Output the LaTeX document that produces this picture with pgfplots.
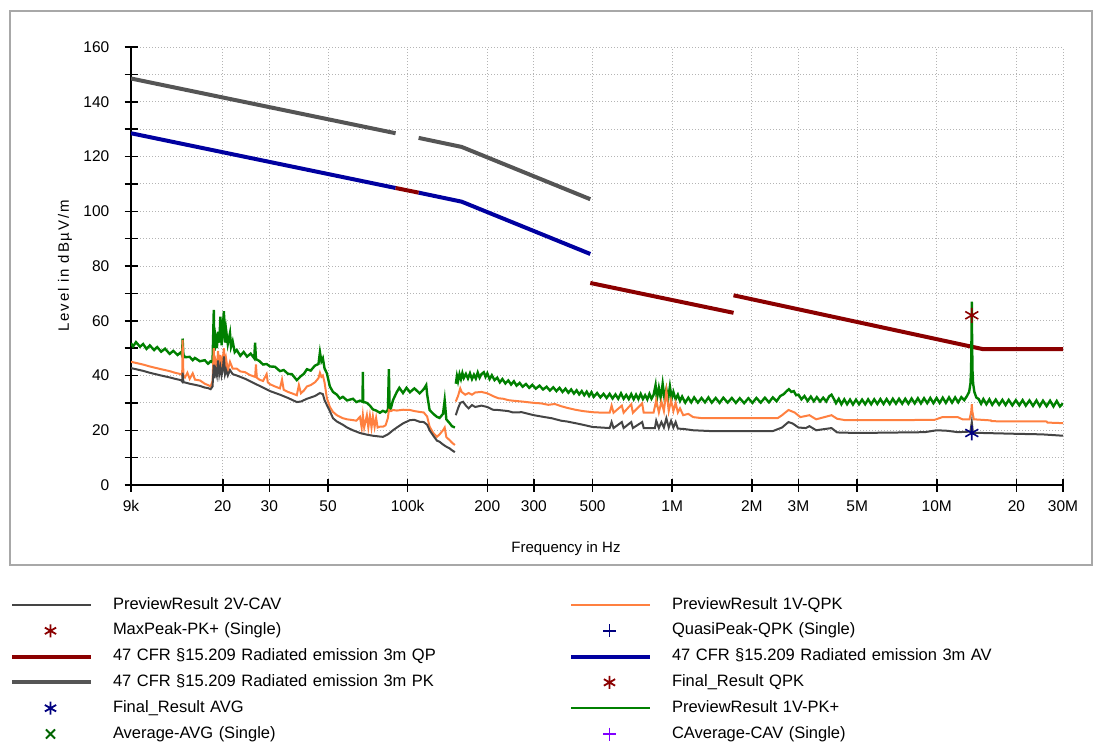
\documentclass[border=0pt]{standalone}
\usepackage{fontspec}
\setmainfont{Liberation Sans}
\usepackage{pgfplots}
\pgfplotsset{compat=1.18}
\definecolor{cGreen}{HTML}{008000}
\definecolor{cOrange}{HTML}{FF8040}
\definecolor{cGrayT}{HTML}{454545}
\definecolor{cPK}{HTML}{555555}
\definecolor{cAV}{HTML}{0000A0}
\definecolor{cQP}{HTML}{8B0000}
\definecolor{cBlueM}{HTML}{000080}
\definecolor{cPurple}{HTML}{8000FF}
\definecolor{cDkGreen}{HTML}{006400}
\definecolor{cFrame}{HTML}{A8A8A8}
\definecolor{cGrid}{HTML}{B4B4B4}
\pgfplotsset{
  linelegend/.style={legend image code/.code={\draw[##1] (0pt,0pt) -- (79pt,0pt);}},
  marklegend/.style={legend image code/.code={\draw[##1] plot coordinates {(38.5pt,0pt)};}},
}
\begin{document}
\begin{tikzpicture}
\useasboundingbox (0pt,0pt) rectangle (1102pt,-742pt);
\draw[cFrame, line width=1.5pt] (10pt,-11pt) rectangle (1092pt,-565pt);
\begin{axis}[
  at={(131pt,-485pt)}, anchor=south west, scale only axis,
  width=932pt, height=438pt,
  xmode=log, xmin=9000, xmax=3e7, ymin=0, ymax=160,
  axis x line*=bottom, axis y line*=left,
  axis line style={black, line width=1.5pt},
  every tick/.style={black, line width=1.5pt},
  tick align=center, major tick length=13pt,
  xtick={9000,20000,30000,50000,100000,200000,300000,500000,1000000,2000000,3000000,5000000,10000000,20000000,30000000},
  xticklabels={9k,20,30,50,100k,200,300,500,1M,2M,3M,5M,10M,20,30M},
  ytick={0,10,...,160},
  yticklabels={0,,20,,40,,60,,80,,100,,120,,140,,160},
  minor xtick={}, 
  grid=major,
  grid style={cGrid, line width=1pt, dash pattern=on 1pt off 2pt},
  tick label style={font=\fontsize{15.5}{18}\selectfont},
  xticklabel style={anchor=north, inner sep=0pt, yshift=-9pt},
  yticklabel style={anchor=east, inner sep=0pt, xshift=-15pt},
  xlabel={Frequency in Hz},
  ylabel={\addfontfeature{LetterSpace=12}Level in dBµV/m},
  label style={font=\fontsize{15}{18}\selectfont},
  xlabel style={at={(axis description cs:0.4667,-0.1461)}, anchor=center, font=\fontsize{15}{18}\selectfont},
  ylabel style={at={(axis description cs:-0.0708,0.5)}, anchor=center},
  legend columns=2,
  legend cell align=left,
  legend style={draw=none, fill=none, inner sep=0pt, outer sep=0pt,
    at={(axis description cs:-0.12983,-0.2557)}, anchor=north west,
    font=\fontsize{16.5}{18}\selectfont,
    row sep=9.8pt, column sep=0pt,
    nodes={inner sep=0pt, text height=12pt, text depth=4pt, text width=456pt, align=left},
    /tikz/every odd column/.append style={column sep=20pt},
    /tikz/every even column/.append style={column sep=0pt}},
]
% ---------------- limits ----------------
\addplot[forget plot, cPK, line width=4pt] coordinates {(9000,148.5) (90000,128.5)};
\addplot[forget plot, cPK, line width=4pt] coordinates {(110000,126.8) (160000,123.5) (490000,104.4)};
\addplot[forget plot, cAV, line width=4pt] coordinates {(9000,128.5) (90000,108.5)};
\addplot[forget plot, cAV, line width=4pt] coordinates {(110000,106.8) (160000,103.5) (490000,84.4)};
\addplot[forget plot, cQP, line width=4pt] coordinates {(90000,108.5) (110000,106.8)};
\addplot[forget plot, cQP, line width=4pt] coordinates {(490000,73.8) (1705000,62.9)};
\addplot[forget plot, cQP, line width=4pt] coordinates {(1705000,69.3) (15000000,49.6) (30000000,49.6)};
% ---------------- PK+ (green) ----------------
\addplot[forget plot, cGreen, line width=2.4pt] coordinates {
(9000,51.8) (9160,50.6) (9400,52.2) (9730,50.5) (10000,51.5) (10300,49.7) (10600,51.0) (11000,49.3)
(11300,50.4) (11700,48.7) (12100,49.8) (12600,47.9) (13000,49.0) (13500,47.5) (13900,48.5) (14050,47.3)
(14100,53.5) (14200,47.6) (14400,46.7) (15000,46.8) (15400,45.6) (15700,46.4) (16400,45.2) (17100,45.6)
(17600,44.3) (18000,45.2) (18300,44.8) (18500,64.0) (18600,49.0) (18800,53.5) (19000,50.0) (19200,56.0)
(19400,52.0) (19600,61.5) (19800,51.0) (20000,57.5) (20200,63.5) (20400,52.0) (20600,56.5) (20900,51.5)
(21300,55.5) (21500,50.5) (21800,52.5) (22200,48.5) (22600,49.3) (23300,47.2) (24000,48.6) (24700,46.9)
(25500,48.0) (26300,46.3) (26500,52.0) (26700,46.0) (27500,45.3) (28400,44.0) (29300,44.2) (30200,43.3)
(31500,43.2) (32900,41.6) (34000,42.0) (35300,40.6) (36500,40.5) (38100,38.3) (39500,39.8) (40500,40.6)
(41600,42.3) (43000,41.8) (44600,43.6) (46000,44.2) (46600,48.5) (47200,45.2) (47800,46.3) (48500,42.6)
(49500,40.8) (50800,36.0) (52200,34.0) (54000,33.0) (55400,31.6) (56900,32.2) (59000,30.9) (62100,31.5)
(64000,30.3) (66000,30.8) (67500,30.4) (67700,41.3) (67900,30.4) (70100,30.0) (72000,29.0) (73900,27.6)
(76000,27.2) (78500,26.4) (80600,27.1) (82500,26.6) (84200,27.4) (84900,42.3) (85500,27.5) (86400,28.0)
(88000,31.0) (91000,34.0) (93000,35.5) (96000,33.6) (99000,35.5) (102000,33.9) (106000,35.3) (111000,33.5)
(115000,35.0) (117500,36.5) (118500,33.0) (121000,27.4) (125000,26.0) (129000,24.9) (132000,24.5)
(136000,26.0) (138000,31.0) (140000,24.0) (144000,22.6) (147000,21.5) (150800,21.0)
};
\addplot[forget plot, cGreen, line width=2.4pt] coordinates {
(152000,37.0) (153500,39.8) (155000,37.9) (157000,40.5) (159000,38.7) (161000,40.9) (163000,39.1) (166000,40.6)
(169000,38.9) (172000,40.8) (175000,38.7) (178000,40.3) (181000,38.9) (184000,41.1) (187000,39.2) (190000,40.5)
(194000,41.2) (197000,39.5) (200000,40.8) (204000,38.7) (208000,40.1) (213000,38.3) (218000,39.2) (223000,37.5)
(228000,38.7) (234000,37.1) (240000,38.2) (246000,36.7) (252000,37.9) (258000,36.3) (265000,37.3) (272000,35.9)
(280000,36.9) (288000,35.5) (296000,36.6) (305000,35.2) (315000,36.3) (325000,34.9) (335000,35.9) (345000,34.5)
(355000,35.7) (365000,34.3) (375000,35.5) (385000,34.0) (395000,35.2) (405000,33.7) (415000,34.9) (425000,33.4)
(435000,34.6) (445000,33.1) (455000,34.3) (465000,32.8) (475000,34.1) (485000,32.5) (495000,33.9) (505000,32.2)
(520000,33.6) (535000,32.0) (550000,33.3) (565000,31.8) (580000,33.3) (595000,31.6) (610000,33.1) (625000,31.5)
(640000,33.5) (655000,31.5) (670000,32.9) (685000,31.4) (700000,33.2) (715000,31.3) (730000,33.0) (745000,31.4)
(760000,33.3) (775000,31.4) (790000,32.8) (805000,31.3) (820000,33.3) (835000,31.5) (850000,32.9) (865000,36.5)
(875000,31.5) (890000,35.5) (905000,31.7) (920000,37.0) (935000,31.7) (950000,35.0) (965000,31.5) (980000,36.0)
(995000,31.6) (1010000,34.0) (1030000,31.3) (1050000,33.0) (1070000,30.7) (1090000,32.3) (1120000,30.1)
(1150000,31.9) (1180000,30.2) (1210000,32.0) (1250000,30.1) (1290000,31.8) (1330000,30.2) (1370000,32.0)
(1410000,30.1) (1460000,31.8) (1510000,30.0) (1560000,31.9) (1620000,30.1) (1680000,31.8) (1740000,30.0)
(1800000,31.7) (1870000,29.9) (1940000,31.7) (2010000,30.0) (2080000,31.8) (2160000,30.1) (2240000,31.9)
(2320000,30.2) (2400000,32.0) (2480000,30.6) (2560000,32.5) (2640000,33.2) (2700000,34.2) (2760000,35.0)
(2820000,34.0) (2880000,34.3) (2940000,32.8) (3000000,33.0) (3080000,31.3) (3160000,32.5) (3250000,30.7)
(3340000,32.3) (3430000,30.6) (3520000,32.1) (3620000,30.5) (3720000,31.9) (3820000,30.5) (3920000,32.4)
(4000000,33.0) (4080000,31.5) (4160000,29.9) (4260000,31.5) (4360000,29.5) (4470000,31.3) (4580000,29.5)
(4700000,31.2) (4820000,29.4) (4950000,31.2) (5080000,29.5) (5220000,31.2) (5360000,29.5) (5500000,31.3)
(5650000,29.5) (5800000,31.3) (5960000,29.6) (6120000,31.4) (6290000,29.6) (6460000,31.4) (6640000,29.6)
(6820000,31.5) (7010000,29.7) (7200000,31.5) (7400000,29.7) (7600000,31.5) (7810000,29.7) (8030000,31.6)
(8250000,29.8) (8480000,31.7) (8710000,29.8) (8950000,31.7) (9200000,29.9) (9450000,31.8) (9710000,29.9)
(9980000,31.8) (10250000,30.0) (10530000,31.9) (10820000,30.0) (11120000,32.0) (11420000,30.1) (11730000,32.0)
(12050000,30.2) (12380000,32.1) (12700000,31.0) (13000000,32.5) (13250000,34.0) (13400000,37.0) (13480000,42.0)
(13540000,58.0) (13560000,67.0) (13580000,58.0) (13640000,42.0) (13720000,37.0) (13870000,34.0) (14100000,32.0)
(14400000,31.4) (14700000,29.7) (15000000,31.4) (15400000,29.5) (15800000,31.3) (16200000,29.3) (16700000,31.2)
(17200000,29.3) (17700000,31.1) (18200000,29.2) (18700000,31.1) (19300000,29.1) (19900000,31.0) (20500000,29.1)
(21100000,31.0) (21700000,29.0) (22400000,30.9) (23100000,28.9) (23800000,30.9) (24500000,28.8) (25200000,30.8)
(26000000,28.8) (26800000,30.8) (27600000,28.7) (28400000,30.7) (29200000,28.7) (30000000,29.8)
};
% ---------------- QPK (orange) ----------------
\addplot[forget plot, cOrange, line width=2pt] coordinates {
(9000,45.0) (9500,44.5) (10000,44.0) (10600,43.3) (11700,42.3) (12600,41.6) (13200,41.0) (13900,40.5)
(14050,40.0) (14100,53.0) (14200,40.0) (14400,39.3) (14700,41.0) (15000,38.8) (15400,40.8) (15700,38.5)
(16400,38.2) (17100,37.0) (17600,36.5) (18000,36.0) (18300,38.0) (18500,50.0) (18600,41.0) (18800,45.0)
(19000,42.5) (19200,49.0) (19400,43.0) (19600,47.5) (19800,42.0) (20000,46.0) (20200,50.0) (20400,43.0)
(20600,46.0) (20900,42.0) (21300,45.0) (21800,42.5) (22600,42.5) (23300,41.5) (24300,41.2) (25300,40.2)
(26500,39.5) (26700,44.0) (26900,39.2) (27500,38.5) (28400,38.0) (29300,40.5) (29600,37.5) (30200,36.8)
(31500,36.0) (32900,35.3) (33500,38.5) (34000,34.8) (35300,34.0) (36500,33.5) (38100,32.8) (38800,36.5)
(39500,33.5) (40500,34.5) (41600,36.0) (43000,36.5) (44600,37.5) (46000,39.0) (46600,41.0) (47200,39.5)
(47800,40.0) (48500,37.5) (49500,31.7) (50800,28.5) (52200,26.7) (54000,25.5) (56900,24.4) (59000,24.0)
(62100,23.7) (64000,23.5) (66000,24.9) (67000,21.0) (67700,25.5) (68500,21.0) (70100,25.5) (71000,21.0)
(72000,25.3) (73000,21.0) (73900,25.0) (75000,21.2) (76000,24.5) (77000,21.0) (78500,21.3) (80600,21.3)
(82500,21.8) (84200,24.5) (84900,27.4) (86400,27.0) (88000,27.4) (91000,27.2) (96000,27.5) (102000,27.4)
(106000,27.0) (111000,26.7) (115000,26.5) (118500,25.0) (121000,21.3) (125000,19.0) (129000,17.6)
(132000,18.5) (136000,20.0) (138000,21.0) (140000,17.5) (144000,16.4) (147000,15.5) (150800,14.6)
};
\addplot[forget plot, cOrange, line width=2pt] coordinates {
(152000,30.5) (155000,32.5) (158000,35.3) (160000,34.0) (165000,33.0) (170000,33.6) (175000,33.0) (180000,33.8)
(190000,34.0) (200000,33.5) (210000,32.5) (220000,31.7) (230000,31.5) (240000,31.0) (250000,30.8) (270000,30.5)
(300000,30.0) (320000,29.8) (340000,29.3) (360000,29.6) (380000,28.8) (400000,28.2) (430000,27.5) (460000,27.0)
(500000,26.6) (550000,26.4) (580000,26.4) (590000,29.0) (600000,26.4) (645000,29.0) (655000,26.4) (700000,29.5)
(710000,26.4) (770000,29.8) (780000,26.4) (850000,26.4) (870000,31.0) (890000,26.5) (910000,30.5) (930000,27.0)
(950000,34.5) (970000,27.0) (990000,31.0) (1010000,27.0) (1030000,30.0) (1050000,26.5) (1070000,28.0)
(1100000,25.5) (1150000,26.0) (1200000,24.8) (1300000,24.4) (1600000,24.4) (2000000,24.4) (2500000,24.4)
(2600000,25.5) (2750000,27.4) (2900000,26.5) (3050000,24.8) (3300000,25.5) (3500000,24.0) (4000000,25.5)
(4200000,24.2) (4500000,23.7) (7000000,23.7) (9800000,23.8) (10500000,24.8) (12000000,24.8) (12500000,24.0)
(13300000,24.0) (13500000,27.0) (13560000,29.5) (13620000,27.0) (13800000,24.0) (16000000,23.6)
(16100000,23.3) (26000000,23.2) (26200000,22.8) (30000000,22.6)
};
% ---------------- CAV (dark grey) ----------------
\addplot[forget plot, cGrayT, line width=2pt] coordinates {
(9000,42.7) (9500,42.2) (10000,41.7) (10600,41.0) (11700,40.0) (12600,39.3) (13200,38.8) (13900,38.3)
(14050,37.8) (14100,41.0) (14200,37.6) (15000,37.0) (15700,36.6) (16400,36.2) (17100,35.6) (17600,35.4)
(18000,35.0) (18300,36.0) (18500,44.0) (18600,39.0) (18800,42.0) (19000,40.0) (19200,45.5) (19400,40.5)
(19600,43.0) (19800,40.0) (20000,42.0) (20200,47.0) (20400,40.5) (20600,42.0) (20900,40.0) (21300,42.0)
(21800,40.5) (22600,40.0) (24300,38.8) (26500,37.0) (28400,35.6) (30200,34.3) (32900,33.0) (35300,31.8)
(38100,30.3) (39500,30.5) (41600,31.5) (44600,32.5) (46600,33.6) (47800,33.2) (48500,31.0) (49500,29.2)
(50800,27.0) (52200,24.4) (54000,23.2) (56900,22.0) (59000,21.0) (62100,20.0) (66000,19.0) (70100,18.4)
(73900,18.0) (78500,17.7) (80600,17.6) (84200,18.5) (88000,20.0) (91000,21.0) (96000,22.5) (102000,23.7)
(106000,23.8) (111000,23.1) (115000,23.0) (118500,22.0) (121000,20.0) (125000,18.0) (129000,16.2)
(132000,15.8) (136000,14.8) (140000,14.0) (144000,13.4) (147000,12.7) (150800,12.0)
};
\addplot[forget plot, cGrayT, line width=2pt] coordinates {
(152000,25.5) (155000,28.0) (158000,30.0) (162000,30.4) (166000,29.0) (170000,28.0) (175000,29.2) (180000,28.5)
(190000,29.0) (200000,28.5) (210000,27.5) (220000,27.4) (240000,27.0) (250000,26.5) (270000,26.6) (300000,25.5)
(330000,24.8) (350000,24.4) (380000,23.5) (400000,23.2) (430000,22.6) (460000,22.0) (500000,21.2) (580000,20.8)
(590000,23.0) (600000,20.8) (645000,23.0) (655000,20.8) (700000,23.0) (710000,20.8) (770000,23.0) (780000,20.8)
(860000,20.8) (870000,23.5) (890000,20.8) (910000,23.0) (930000,21.0) (950000,24.4) (970000,21.0) (990000,23.5)
(1010000,21.0) (1030000,23.0) (1050000,20.6) (1100000,20.5) (1200000,20.0) (1400000,19.7) (2400000,19.7)
(2600000,21.0) (2750000,23.0) (2850000,22.5) (3000000,21.0) (3200000,20.8) (3300000,21.5) (3500000,20.0)
(4000000,20.8) (4200000,19.2) (5000000,19.0) (9000000,19.3) (10000000,20.0) (11000000,19.8) (12000000,19.3)
(13400000,19.5) (13560000,23.0) (13700000,19.0) (15000000,19.0) (20000000,18.7) (25000000,18.5) (30000000,18.0)
};
% ---------------- markers ----------------
\addplot[forget plot, only marks, mark=asterisk, cQP, mark size=7.5pt, line width=1.6pt] coordinates {(13560000,62)};
\addplot[forget plot, only marks, mark=asterisk, cBlueM, mark size=7.5pt, line width=1.6pt] coordinates {(13560000,19)};
% ---------------- legend ----------------
\addlegendimage{linelegend, cGrayT, line width=2pt}
\addlegendentry{PreviewResult 2V-CAV}
\addlegendimage{linelegend, cOrange, line width=2pt}
\addlegendentry{PreviewResult 1V-QPK}
\addlegendimage{marklegend, only marks, mark=asterisk, cQP, mark size=6.5pt, line width=1.8pt}
\addlegendentry{MaxPeak-PK+ (Single)}
\addlegendimage{marklegend, only marks, mark=+, cBlueM, mark size=6.5pt, line width=1.8pt}
\addlegendentry{QuasiPeak-QPK (Single)}
\addlegendimage{linelegend, cQP, line width=4pt}
\addlegendentry{47 CFR §15.209 Radiated emission 3m QP}
\addlegendimage{linelegend, cAV, line width=4pt}
\addlegendentry{47 CFR §15.209 Radiated emission 3m AV}
\addlegendimage{linelegend, cPK, line width=4pt}
\addlegendentry{47 CFR §15.209 Radiated emission 3m PK}
\addlegendimage{marklegend, only marks, mark=asterisk, cQP, mark size=6.5pt, line width=1.8pt}
\addlegendentry{Final\_Result QPK}
\addlegendimage{marklegend, only marks, mark=asterisk, cBlueM, mark size=6.5pt, line width=1.8pt}
\addlegendentry{Final\_Result AVG}
\addlegendimage{linelegend, cGreen, line width=2pt}
\addlegendentry{PreviewResult 1V-PK+}
\addlegendimage{marklegend, only marks, mark=x, cDkGreen, mark size=6.5pt, line width=1.8pt}
\addlegendentry{Average-AVG (Single)}
\addlegendimage{marklegend, only marks, mark=+, cPurple, mark size=6.5pt, line width=1.8pt}
\addlegendentry{CAverage-CAV (Single)}
\end{axis}
\end{tikzpicture}
\end{document}
